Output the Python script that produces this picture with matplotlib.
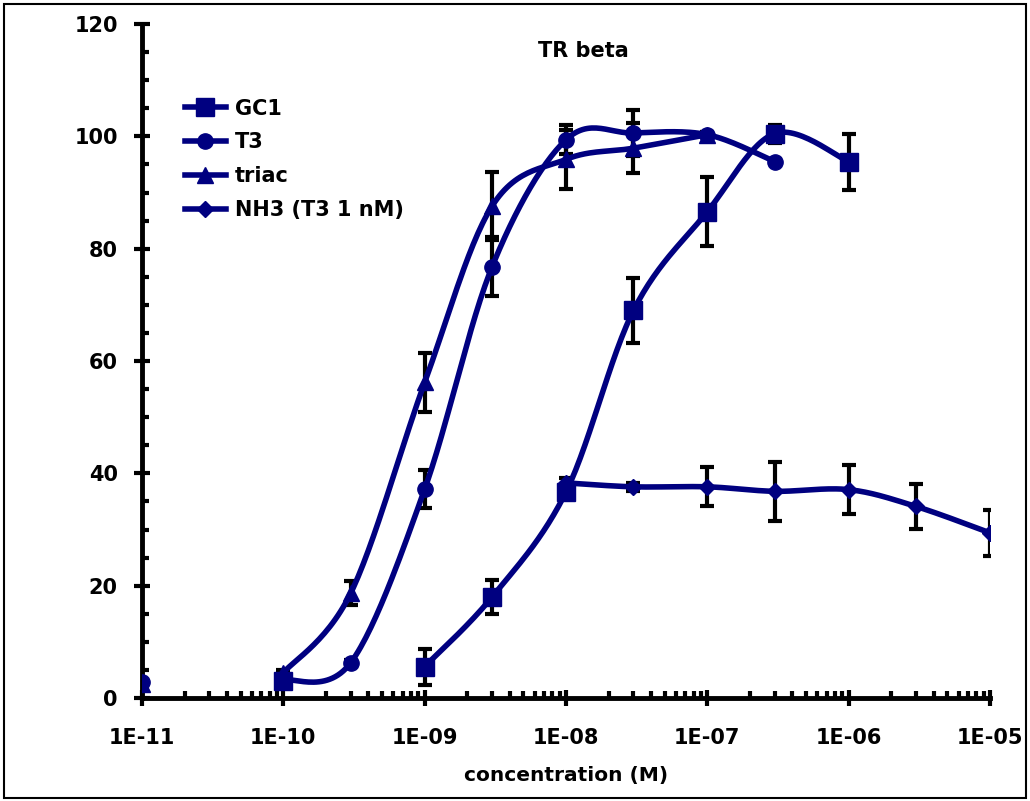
import numpy as np
import matplotlib
matplotlib.use('Agg')
from matplotlib import pyplot as plt
from matplotlib.ticker import FixedLocator, LogLocator, MultipleLocator, FuncFormatter, NullFormatter
from matplotlib.patches import Rectangle

nan = np.nan

conc = [1e-11, 3e-11, 1e-10, 3e-10, 1e-9, 3e-9, 1e-8, 3e-8, 1e-7, 3e-7, 1e-6, 3e-6, 1e-5]

gc1 = [nan, nan, 3.0, nan, 5.6, 18.0, 36.7, 69.0, 86.6, 100.5, 95.5, nan, nan]
gc1_err = [nan, nan, 0.0, nan, 3.2, 3.0, 0.5, 5.8, 6.2, 1.6, 5.0, nan, nan]

t3 = [2.8, nan, 3.2, 6.3, 37.2, 76.8, 99.4, 100.6, 100.3, 95.5, nan, nan, nan]
t3_err = [0.0, nan, 0.0, 0.5, 3.4, 5.3, 2.6, 4.1, 0.5, 0.5, nan, nan, nan]

triac = [2.5, nan, 4.5, 18.7, 56.2, 87.6, 95.9, 97.9, 100.3, nan, nan, nan, nan]
triac_err = [0.0, nan, 0.5, 2.2, 5.3, 6.0, 5.3, 4.4, 0.5, nan, nan, nan, nan]

nh3 = [nan, nan, nan, nan, nan, nan, 38.3, 37.6, 37.6, 36.8, 37.1, 34.1, 29.4]
nh3_err = [nan, nan, nan, nan, nan, nan, 0.8, 0.7, 3.5, 5.2, 4.4, 4.0, 4.1]

series = [
    ('GC1', gc1, gc1_err, 's', 13),
    ('T3', t3, t3_err, 'o', 11),
    ('triac', triac, triac_err, '^', 12),
    ('NH3 (T3 1 nM)', nh3, nh3_err, 'D', 8),
]

navy = '#000080'


def smooth(xs, ys, n=30):
    # Excel-style smoothed line (Bezier through points) in log-x space
    lx = np.log10(xs)
    pts = np.column_stack([lx, ys])
    out = []
    for i in range(len(pts) - 1):
        p0 = pts[max(i - 1, 0)]
        p1 = pts[i]
        p2 = pts[i + 1]
        p3 = pts[min(i + 2, len(pts) - 1)]
        c1 = p1 + (p2 - p0) / 6
        c2 = p2 - (p3 - p1) / 6
        t = np.linspace(0, 1, n)[:, None]
        seg = (1 - t) ** 3 * p1 + 3 * (1 - t) ** 2 * t * c1 + 3 * (1 - t) * t ** 2 * c2 + t ** 3 * p2
        out.append(seg)
    out = np.vstack(out)
    return 10 ** out[:, 0], out[:, 1]


def segments(xs, ys):
    segs, cur = [], []
    for x, y in zip(xs, ys):
        if np.isnan(y):
            if cur:
                segs.append(cur)
            cur = []
        else:
            cur.append((x, y))
    if cur:
        segs.append(cur)
    return segs


fig = plt.figure(figsize=(10.3, 8.01), dpi=100)
ax = fig.add_axes([0.1379, 0.1286, 0.8233, 0.8414])

for name, ys, errs, mk, ms in series:
    x = np.array(conc)
    y = np.array(ys)
    e = np.array(errs)
    ok = ~np.isnan(y)
    ax.errorbar(x[ok], y[ok], yerr=e[ok], fmt='none', ecolor='black',
                elinewidth=3, capsize=5, capthick=3, zorder=2)
    for seg in segments(conc, ys):
        if len(seg) > 1:
            sx, sy = smooth(np.array([p[0] for p in seg]), np.array([p[1] for p in seg]))
            ax.plot(sx, sy, color=navy, lw=4, zorder=3, solid_capstyle='round')
    ax.plot(x[ok], y[ok], linestyle='none', marker=mk, ms=ms, color=navy, zorder=4)
    ax.plot([], [], color=navy, lw=4, marker=mk, ms=ms, label=name)

ax.set_xscale('log')
ax.set_xlim(1e-11, 1e-5)
ax.set_ylim(0, 120)

ax.xaxis.set_major_locator(FixedLocator([10.0 ** k for k in range(-11, -4)]))
ax.xaxis.set_minor_locator(LogLocator(base=10, subs=np.arange(2, 10), numticks=20))
ax.xaxis.set_minor_formatter(NullFormatter())
ax.xaxis.set_major_formatter(FuncFormatter(lambda v, p: '1E-%02d' % round(-np.log10(v))))
ax.yaxis.set_major_locator(MultipleLocator(20))
ax.yaxis.set_minor_locator(MultipleLocator(5))

for s in ['top', 'right']:
    ax.spines[s].set_visible(False)
for s in ['left', 'bottom']:
    ax.spines[s].set_linewidth(3.5)

ax.tick_params(which='major', direction='inout', length=11, width=3, labelsize=15)
ax.tick_params(axis='x', which='major', pad=16)
ax.tick_params(axis='y', which='major', pad=12)
ax.tick_params(which='minor', direction='in', length=5, width=3)
for lab in ax.get_xticklabels() + ax.get_yticklabels():
    lab.set_fontweight('bold')

ax.set_xlabel('concentration (M)', fontsize=14.5, fontweight='bold', labelpad=13)
ax.text(0.52, 0.96, 'TR beta', transform=ax.transAxes, ha='center', va='center',
        fontsize=15, fontweight='bold')

leg = ax.legend(loc='upper left', bbox_to_anchor=(0.028, 0.917), frameon=False,
                handlelength=2.0, handletextpad=0.4, labelspacing=0.66,
                prop={'size': 15, 'weight': 'bold'})

fig.patches.append(Rectangle((0.004, 0.004), 0.992, 0.991, transform=fig.transFigure,
                             fill=False, edgecolor='black', lw=1.5))

fig.savefig('out.png', dpi=100)
